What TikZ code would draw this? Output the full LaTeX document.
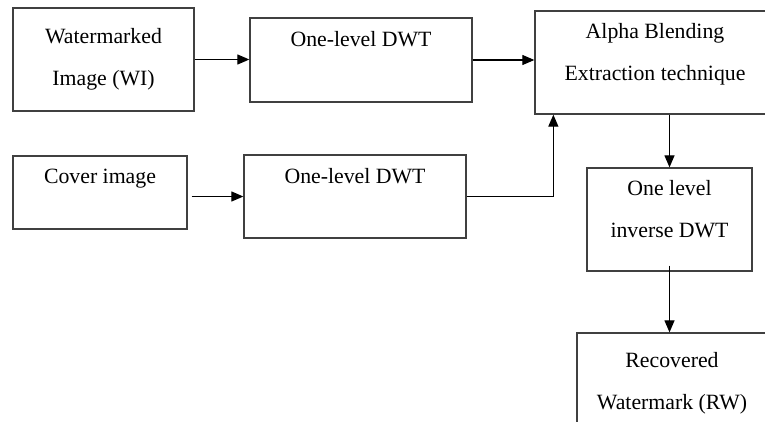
\documentclass[tikz,border=0pt]{standalone}
\usepackage{fontspec}
\setmainfont{Liberation Serif}
\usetikzlibrary{arrows.meta}

\tikzset{
    blk/.style={draw=black!75, line width=1.1pt, align=center, inner sep=0pt,
        font=\fontsize{18.6}{35.9}\selectfont},
    flow/.style={draw=black, line width=1pt, -{Triangle[length=0.36cm,width=0.3cm]}}
}

\begin{document}
\begin{tikzpicture}[x=0.03cm, y=-0.03cm]
    \useasboundingbox (0,0) rectangle (765,421);
    \clip (0,0) rectangle (765,421);

    % nodes (blocks)
    \node[blk, minimum width=5.43cm, minimum height=3.09cm] (wi) at (103.5,59.5) {Watermarked\\Image (WI)};
    \node[blk, minimum width=6.66cm, minimum height=2.52cm] (dwta) at (361,60) {One-level DWT\\\mbox{}};
    \node[blk, minimum width=7.2cm, minimum height=3.09cm] (abe) at (655,62.5) {Alpha Blending\\Extraction technique\\[-0.6cm]\mbox{}};
    \node[blk, minimum width=5.22cm, minimum height=2.19cm] (cov) at (100,192.5) {Cover image\\[-0.3cm]\mbox{}};
    \node[blk, minimum width=6.66cm, minimum height=2.49cm] (dwtb) at (355,196.5) {One-level DWT\\\mbox{}};
    \node[blk, minimum width=4.95cm, minimum height=3.09cm] (idwt) at (669.5,219.5) {One level\\inverse DWT\\[-0.6cm]\mbox{}};
    \node[blk, minimum width=5.7cm, minimum height=3.0cm] (rw) at (672,383) {Recovered\\Watermark (RW)};

    % edges
    \draw[flow] (wi.east) -- (wi.east -| dwta.west); % WI -> DWT
    \draw[flow] (dwta.east) -- (dwta.east -| abe.west); % DWT -> extraction
    \draw[flow] ([xshift=0.12cm]cov.east |- dwtb.west) -- (dwtb.west); % cover -> DWT
    \draw[flow] (dwtb.east) -| ([xshift=0.57cm]abe.south west); % DWT -> extraction
    \draw[flow] (abe.south -| idwt.north) -- (idwt.north); % extraction -> IDWT
    \draw[flow] ([yshift=0.18cm]idwt.south) -- (idwt.south |- rw.north); % IDWT -> RW

\end{tikzpicture}
\end{document}
